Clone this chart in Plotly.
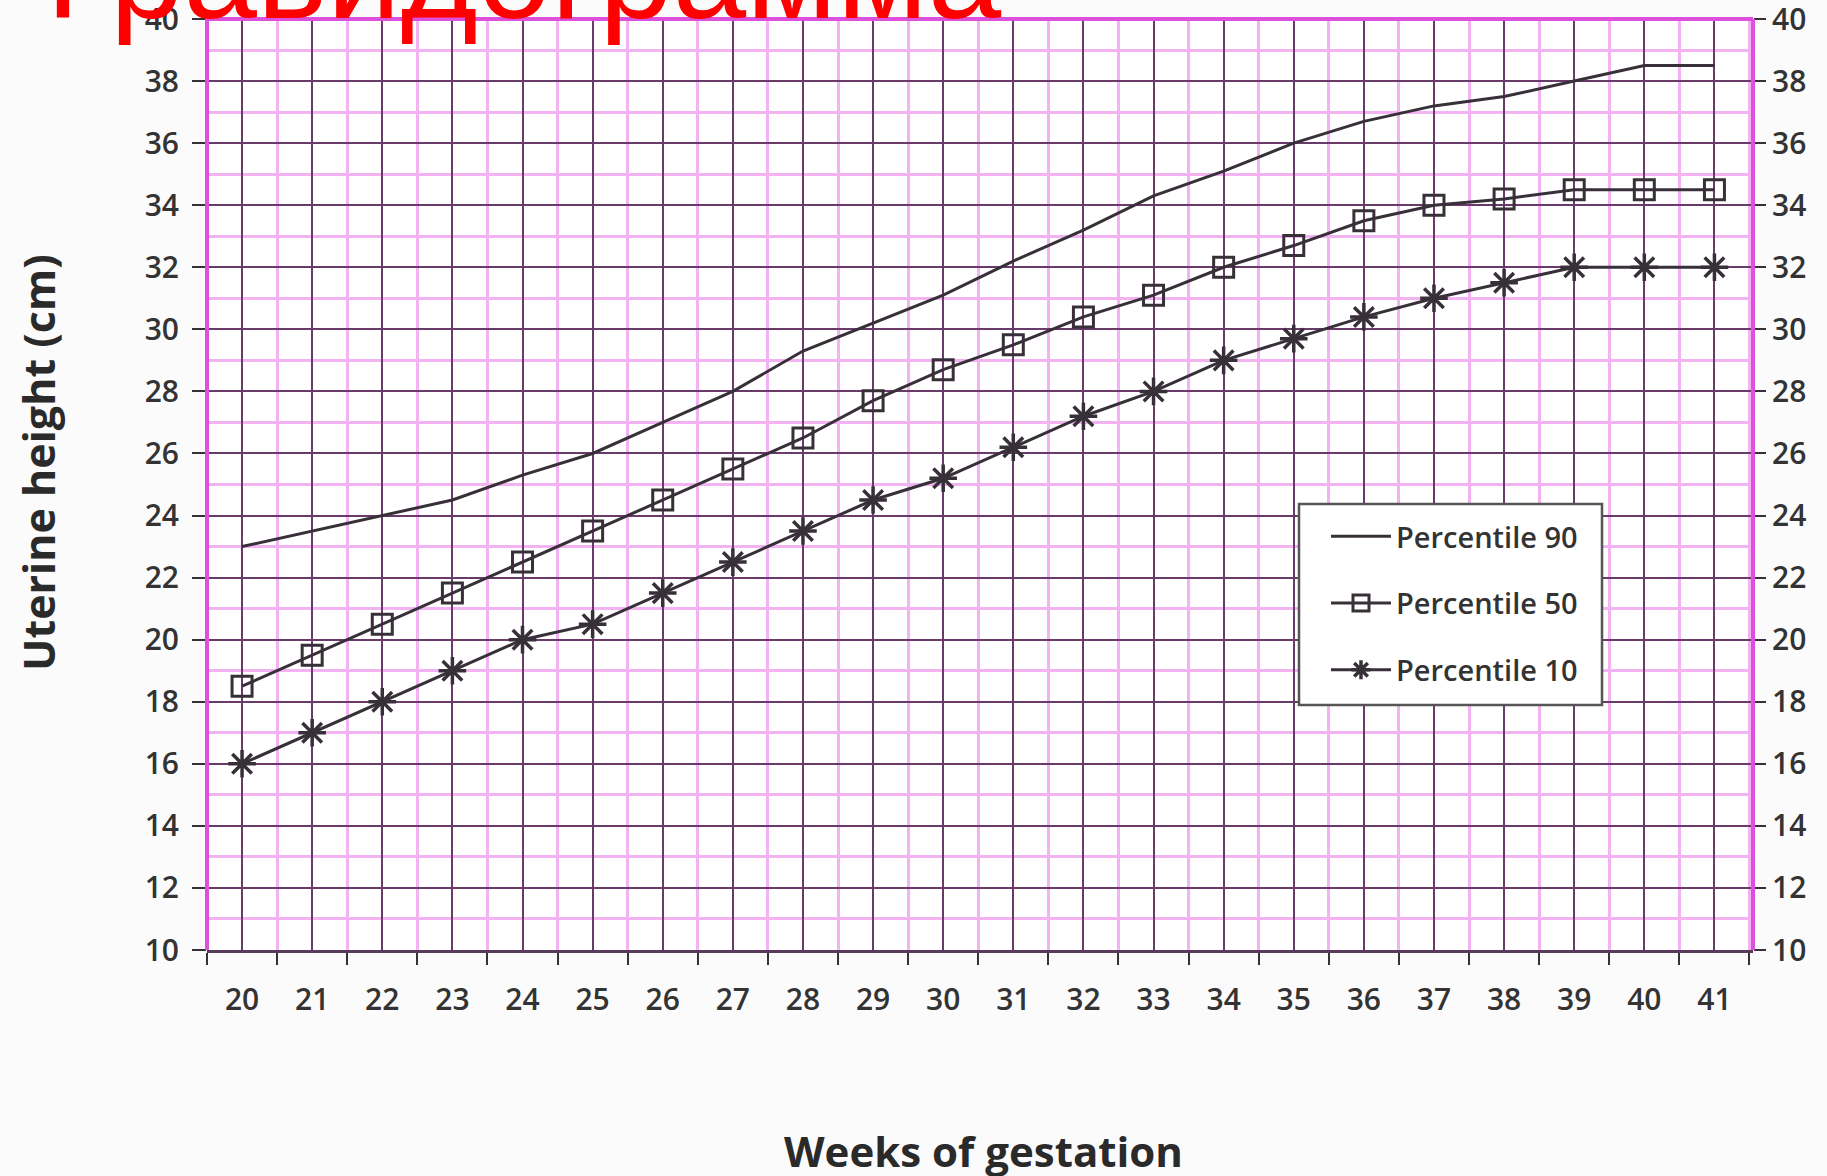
import plotly.graph_objects as go

weeks = list(range(20, 42))
p90 = [23.0, 23.5, 24.0, 24.5, 25.3, 26.0, 27.0, 28.0, 29.3, 30.2, 31.1, 32.2,
       33.2, 34.3, 35.1, 36.0, 36.7, 37.2, 37.5, 38.0, 38.5, 38.5]
p50 = [18.5, 19.5, 20.5, 21.5, 22.5, 23.5, 24.5, 25.5, 26.5, 27.7, 28.7, 29.5,
       30.4, 31.1, 32.0, 32.7, 33.5, 34.0, 34.2, 34.5, 34.5, 34.5]
p10 = [16.0, 17.0, 18.0, 19.0, 20.0, 20.5, 21.5, 22.5, 23.5, 24.5, 25.2, 26.2,
       27.2, 28.0, 29.0, 29.7, 30.4, 31.0, 31.5, 32.0, 32.0, 32.0]
y_ticks = list(range(10, 41, 2))
series_names = ["Percentile 90", "Percentile 50", "Percentile 10"]
title_text = "Гравидограмма"
x_title = "Weeks of gestation"
y_title = "Uterine height (cm)"

W, H = 1827, 1176
L, R, T, B = 207, 74, 19, 226
pw, ph = W - L - R, H - T - B


def px(x):
    return (x - L) / pw


def py(y):
    return (H - B - y) / ph


dark = "#383038"
txt = "#333333"
major_grid = "#6a3a6a"
minor_grid = "#f3b2f1"
magenta = "#dc50dc"

fig = go.Figure()
fig.add_trace(go.Scatter(x=weeks, y=p90, name=series_names[0], mode="lines",
                         line=dict(color=dark, width=3), legendgroup="a"))
fig.add_trace(go.Scatter(x=weeks, y=p50, name=series_names[1], mode="lines+markers",
                         line=dict(color=dark, width=3),
                         marker=dict(symbol="square-open", size=20, color=dark,
                                     line=dict(width=3, color=dark)),
                         legendgroup="b"))
fig.add_trace(go.Scatter(x=weeks, y=p10, name=series_names[2], mode="lines+markers",
                         line=dict(color=dark, width=3),
                         marker=dict(symbol="asterisk-open", size=23, color=dark,
                                     line=dict(width=3.5, color=dark)),
                         legendgroup="c"))
# invisible trace for the right-hand axis
fig.add_trace(go.Scatter(x=[weeks[0]], y=[y_ticks[0]], yaxis="y2", mode="markers",
                         marker=dict(opacity=0), showlegend=False, hoverinfo="skip"))

tickfont = dict(family="Open Sans", size=30, color=txt, weight=600)

fig.update_layout(
    width=W, height=H,
    margin=dict(l=L, r=R, t=T, b=B, autoexpand=False),
    paper_bgcolor="#fcfbfc",
    plot_bgcolor="#ffffff",
    showlegend=True,
    legend=dict(x=px(1326), y=py(511), xanchor="left", yanchor="top",
                bgcolor="rgba(0,0,0,0)", borderwidth=0,
                font=dict(family="Open Sans", size=29, color=txt, weight=600),
                tracegroupgap=26, itemwidth=60),
    xaxis=dict(range=[19.5, 41.55], tickmode="array", tickvals=weeks,
               ticktext=[str(w) for w in weeks], ticks="", ticklabelstandoff=21,
               tickfont=tickfont, showgrid=True, gridcolor=major_grid, gridwidth=2,
               zeroline=False, showline=True, linecolor="#5a3a5a", linewidth=3,
               automargin=False,
               minor=dict(tick0=19.5, dtick=1, showgrid=True, gridcolor=minor_grid,
                          gridwidth=3, ticks="outside", ticklen=12, tickcolor=dark,
                          tickwidth=2)),
    yaxis=dict(range=[10, 40], tickmode="array", tickvals=y_ticks,
               ticks="outside", ticklen=14, tickwidth=2, tickcolor=dark,
               ticklabelstandoff=7,
               tickfont=tickfont, showgrid=True, gridcolor=major_grid, gridwidth=2,
               zeroline=False, showline=False, ticklabeloverflow="allow",
               automargin=False,
               minor=dict(tick0=11, dtick=2, showgrid=True, gridcolor=minor_grid,
                          gridwidth=3)),
    yaxis2=dict(range=[10, 40], overlaying="y", side="right", tickmode="array",
                tickvals=y_ticks, ticks="outside", ticklen=12, tickwidth=2,
                tickcolor=dark, tickfont=tickfont, showgrid=False, zeroline=False,
                showline=False, ticklabeloverflow="allow", automargin=False),
    shapes=[
        dict(type="line", xref="paper", yref="paper", x0=0, x1=0, y0=0, y1=1,
             line=dict(color=magenta, width=4)),
        dict(type="line", xref="paper", yref="paper", x0=1, x1=1, y0=0, y1=1,
             line=dict(color=magenta, width=4)),
        dict(type="line", xref="paper", yref="paper", x0=0, x1=1, y0=1, y1=1,
             line=dict(color=magenta, width=4)),
        # legend box
        dict(type="rect", xref="paper", yref="paper", layer="above",
             x0=px(1299), x1=px(1602), y0=py(705), y1=py(504),
             fillcolor="#ffffff", line=dict(color="#555555", width=2.5)),
    ],
    annotations=[
        dict(text=title_text, xref="paper", yref="paper",
             x=px(44), y=py(48), xanchor="left", yanchor="bottom",
             showarrow=False,
             font=dict(family="Liberation Sans", size=132, color="#ff0000")),
        dict(text=x_title, xref="paper", yref="paper",
             x=px(983), y=py(1150), xanchor="center", yanchor="middle",
             showarrow=False,
             font=dict(family="Open Sans", size=42, color="#2a2a2a", weight=700)),
        dict(text=y_title, xref="paper", yref="paper", textangle=-90,
             x=px(38), y=py(463), xanchor="center", yanchor="middle",
             showarrow=False,
             font=dict(family="Open Sans", size=43, color="#2a2a2a", weight=700)),
    ],
)

fig.write_html("out.html", config={"displayModeBar": False},
               post_script="document.body.style.margin='0';document.body.style.overflow='hidden';")
